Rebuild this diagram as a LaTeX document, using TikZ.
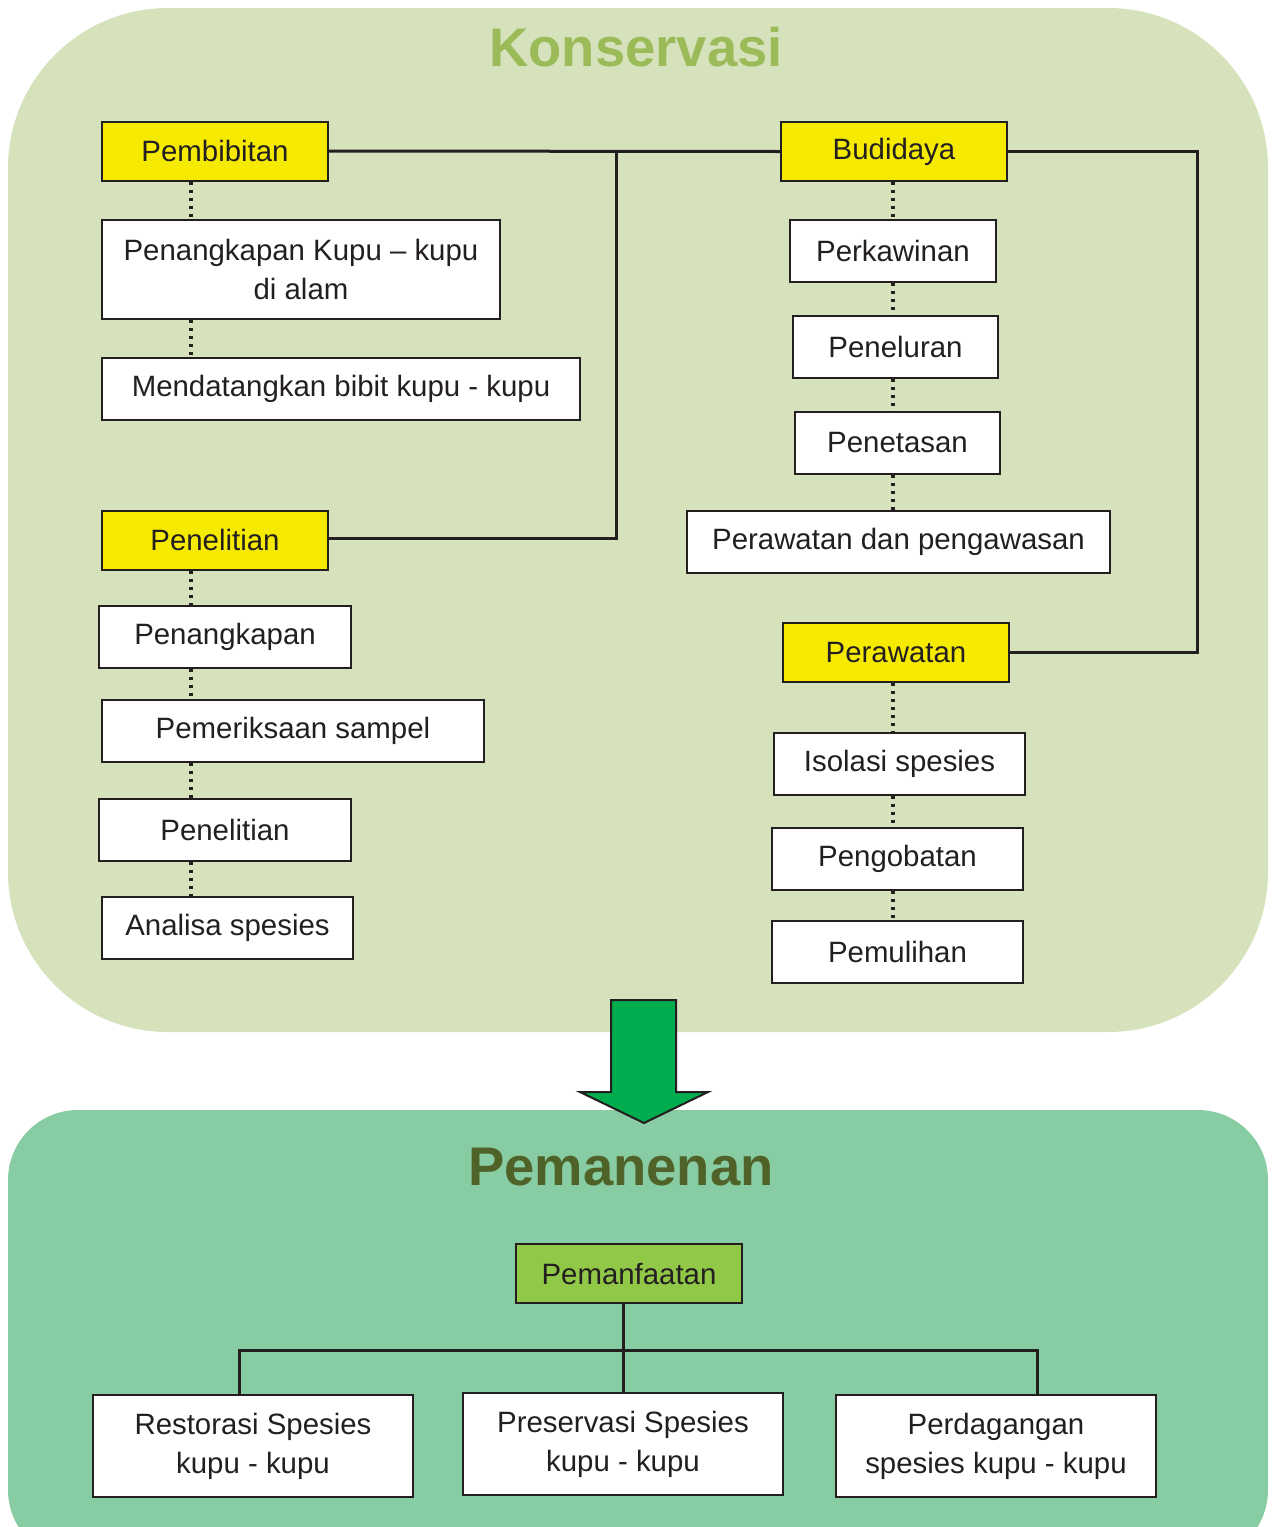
\documentclass[tikz,border=0pt]{standalone}
\usepackage{fontspec}
\setmainfont{Liberation Sans}
\definecolor{konsbg}{HTML}{D6E2BC}
\definecolor{konstitle}{HTML}{9BBB59}
\definecolor{panenbg}{HTML}{88CCA4}
\definecolor{panentitle}{HTML}{4F6228}
\definecolor{kuning}{HTML}{F5EA00}
\definecolor{hijaubox}{HTML}{92C848}
\definecolor{panah}{HTML}{00AD4E}
\definecolor{textdark}{HTML}{231F20}
\begin{document}
\begin{tikzpicture}[
		x=0.5pt, y=-0.5pt,
		every node/.style={font=\fontsize{14.7}{19.5}\selectfont, text=textdark},
		box/.style={
			draw=textdark, line width=1pt, fill=white,
			inner sep=0pt, minimum height=31pt,
			align=center,
		},
		head/.style={box, fill=kuning, minimum width=113pt, minimum height=29.5pt},
		link/.style={line width=1.5pt, draw=textdark},
		dots/.style={line width=1.6pt, draw=textdark, dash pattern=on 1.6pt off 2.4pt},
		title/.style={font=\fontsize{27.2}{30}\selectfont\bfseries},
		]
		
		\clip (0,0) rectangle (1275,1527);
		
		% background regions
		\fill[konsbg, rounded corners=80pt] (8,8) rectangle (1268,1032);
		\fill[panenbg, rounded corners=35pt] (8,1110) rectangle (1268,1560);
		
		\node[title, text=konstitle]  (konservasi) at (636,47)   {Konservasi};
		\node[title, text=panentitle] (pemanenan)  at (621,1167) {Pemanenan};
		
		% left column
		\node[head] (pembibitan)  at (215,151)   {Pembibitan};
		\node[box, minimum width=199pt, minimum height=49.5pt] (tangkapkupu) at (301,269.5) {Penangkapan Kupu -- kupu\\di alam};
		\node[box, minimum width=239pt] (datangkan)   at (341,389)   {Mendatangkan bibit kupu - kupu};
		
		\node[head] (penelitian)  at (215,540)   {Penelitian};
		\node[box, minimum width=126pt] (penangkapan) at (225,637)   {Penangkapan};
		\node[box, minimum width=191pt] (periksa)     at (293,731)   {Pemeriksaan sampel};
		\node[box, minimum width=126pt] (teliti)      at (225,829.5) {Penelitian};
		\node[box, minimum width=125.5pt] (analisa)   at (227.5,928) {Analisa spesies};
		
		% right column
		\node[head] (budidaya)    at (894,151.5) {Budidaya};
		\node[box, minimum width=103pt] (kawin)       at (893,250.5) {Perkawinan};
		\node[box, minimum width=102.5pt] (telur)     at (895.5,346.5) {Peneluran};
		\node[box, minimum width=102.5pt] (tetas)     at (897.5,442.5) {Penetasan};
		\node[box, minimum width=211.5pt] (awasi)     at (898.5,541.5) {Perawatan dan pengawasan};
		
		\node[head] (perawatan)   at (896,652.5) {Perawatan};
		\node[box, minimum width=125.5pt] (isolasi)   at (899.5,763.5) {Isolasi spesies};
		\node[box, minimum width=125.5pt] (obat)      at (897.5,858.5) {Pengobatan};
		\node[box, minimum width=125.5pt] (pulih)     at (897.5,952)   {Pemulihan};
		
		% bottom
		\node[box, fill=hijaubox, minimum width=113pt, minimum height=29.5pt] (pemanfaatan) at (629,1273.5) {Pemanfaatan};
		\node[box, minimum width=160pt, minimum height=51pt] (restorasi)   at (253,1446) {Restorasi Spesies\\kupu - kupu};
		\node[box, minimum width=160pt, minimum height=51pt] (preservasi)  at (623,1444) {Preservasi Spesies\\kupu - kupu};
		\node[box, minimum width=160pt, minimum height=51pt] (perdagangan) at (996,1446) {Perdagangan\\spesies kupu - kupu};
		
		\coordinate (dotL) at (191,0);
		\coordinate (dotR) at (893,0);
		\coordinate (junc) at (616,0);
		\coordinate (sideR) at (1197,0);
		\coordinate (bar) at (0,1350);
		
		% dotted chains
		\draw[dots] (pembibitan.south -| dotL) -- (tangkapkupu.north -| dotL);
		\draw[dots] (tangkapkupu.south -| dotL) -- (datangkan.north -| dotL);
		\draw[dots] (penelitian.south -| dotL) -- (penangkapan.north -| dotL);
		\draw[dots] (penangkapan.south -| dotL) -- (periksa.north -| dotL);
		\draw[dots] (periksa.south -| dotL) -- (teliti.north -| dotL);
		\draw[dots] (teliti.south -| dotL) -- (analisa.north -| dotL);
		
		\draw[dots] (budidaya.south -| dotR) -- (kawin.north -| dotR);
		\draw[dots] (kawin.south -| dotR) -- (telur.north -| dotR);
		\draw[dots] (telur.south -| dotR) -- (tetas.north -| dotR);
		\draw[dots] (tetas.south -| dotR) -- (awasi.north -| dotR);
		\draw[dots] (perawatan.south -| dotR) -- (isolasi.north -| dotR);
		\draw[dots] (isolasi.south -| dotR) -- (obat.north -| dotR);
		\draw[dots] (obat.south -| dotR) -- (pulih.north -| dotR);
		
		% solid links
		\draw[link] (pembibitan.east) -- (budidaya.west);
		\draw[link] ([yshift=1pt]penelitian.east) -- ([yshift=1pt]penelitian.east -| junc) -- (pembibitan.east -| junc);
		\draw[link] (budidaya.east) -- (budidaya.east -| sideR) -- (perawatan.east -| sideR) -- (perawatan.east);
		
		\draw[link] (pemanfaatan.south -| preservasi.north) -- (preservasi.north);
		\draw[link] ([xshift=-7pt]restorasi.north) -- ([xshift=-7pt]restorasi.north |- bar)
		-- ([xshift=20.5pt]perdagangan.north |- bar) -- ([xshift=20.5pt]perdagangan.north);
		
		% big arrow
		\filldraw[fill=panah, draw=textdark, line width=1pt]
		(611,1000) -- (676,1000) -- (676,1092) -- (708,1092) -- (644,1123)
		-- (580,1092) -- (611,1092) -- cycle;
		
	\end{tikzpicture}
\end{document}
